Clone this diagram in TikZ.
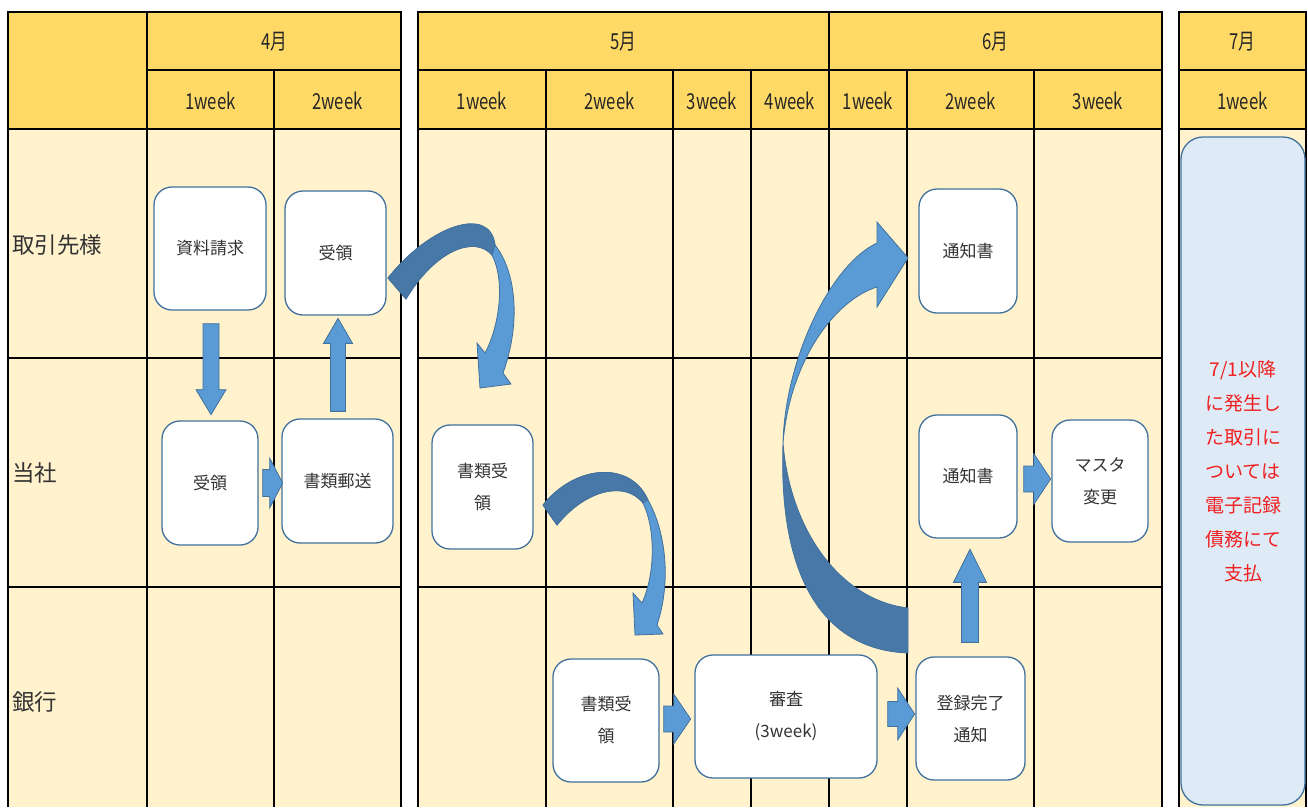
\documentclass[tikz,border=0pt]{standalone}
\usepackage{fontspec}
\usepackage{graphicx}
\setmainfont{Noto Sans CJK JP}
\usetikzlibrary{calc}
\definecolor{hdr}{HTML}{FFD966}
\definecolor{bodyc}{HTML}{FFF2CC}
\definecolor{arrowfill}{HTML}{5B9BD5}
\definecolor{arrowdark}{HTML}{4878A8}
\definecolor{edge}{HTML}{41719C}
\definecolor{boxblue}{HTML}{DEEBF7}
\definecolor{txt}{HTML}{333333}
\definecolor{redtxt}{HTML}{F02020}
\newcommand\hd[1]{\scalebox{0.76}[1]{#1}}
\newcommand\barr[6]{%
  \filldraw[blk,shift={#1},rotate=#2] (0,-#5) -- ({#3-#4},-#5) -- ({#3-#4},-#6) -- (#3,0) -- ({#3-#4},#6) -- ({#3-#4},#5) -- (0,#5) -- cycle;}
\tikzset{
  gridl/.style={line width=2.4pt, black},
  box/.style={draw=edge, line width=1.3pt, fill=white, rounded corners=18pt, align=center,
    font=\fontsize{17}{32}\selectfont, text=txt, inner sep=0pt},
  blk/.style={fill=arrowfill, draw=edge, line width=0.8pt},
  blkd/.style={fill=arrowdark, draw=edge, line width=0.8pt},
  hdrtext/.style={font=\fontsize{22}{22}\selectfont, text=black!85, inner sep=0pt},
  rowtext/.style={font=\fontsize{22.5}{22.5}\selectfont, text=txt, anchor=west, inner sep=0pt},
}
\begin{document}
\begin{tikzpicture}[x=1pt,y=-1pt]
\useasboundingbox (0,0) rectangle (1308,807);
\fill[white] (0,0) rectangle (1308,807);
% fills
\fill[hdr] (8,12) rectangle (401,129);
\fill[bodyc] (8,129) rectangle (401,807);
\fill[hdr] (418,12) rectangle (1162,129);
\fill[bodyc] (418,129) rectangle (1162,807);
\fill[hdr] (1179,12) rectangle (1306,129);
\fill[bodyc] (1179,129) rectangle (1306,807);
% grid table 1
\draw[gridl] (8,807) -- (8,12) -- (401,12) -- (401,807);
\draw[gridl] (147,70) -- (401,70);
\draw[gridl] (8,129) -- (401,129);
\draw[gridl] (8,358) -- (401,358);
\draw[gridl] (8,587) -- (401,587);
\draw[gridl] (147,12) -- (147,807);
\draw[gridl] (274,70) -- (274,807);
% grid table 2
\draw[gridl] (418,807) -- (418,12) -- (1162,12) -- (1162,807);
\draw[gridl] (418,70) -- (1162,70);
\draw[gridl] (418,129) -- (1162,129);
\draw[gridl] (418,358) -- (1162,358);
\draw[gridl] (418,587) -- (1162,587);
\foreach \xx in {546,673,751,907,1034} \draw[gridl] (\xx,70) -- (\xx,807);
\draw[gridl] (829,12) -- (829,807);
% grid table 3
\draw[gridl] (1179,807) -- (1179,12) -- (1306,12) -- (1306,807);
\draw[gridl] (1179,70) -- (1306,70);
\draw[gridl] (1179,129) -- (1306,129);
% header text
\node[hdrtext] (h4) at (274,42) {\hd{4月}};
\node[hdrtext] (h5) at (623,42) {\hd{5月}};
\node[hdrtext] (h6) at (995,42) {\hd{6月}};
\node[hdrtext] (h7) at (1242,42) {\hd{7月}};
\node[hdrtext] (w1) at (210.5,101) {\hd{1week}};
\node[hdrtext] (w2) at (337.5,101) {\hd{2week}};
\node[hdrtext] (w3) at (482,101) {\hd{1week}};
\node[hdrtext] (w4) at (609.5,101) {\hd{2week}};
\node[hdrtext] (w5) at (712,101) {\hd{3week}};
\node[hdrtext] (w6) at (790,101) {\hd{4week}};
\node[hdrtext] (w7) at (868,101) {\hd{1week}};
\node[hdrtext] (w8) at (970.5,101) {\hd{2week}};
\node[hdrtext] (w9) at (1098,101) {\hd{3week}};
\node[hdrtext] (w10) at (1242.5,101) {\hd{1week}};
% row labels
\node[rowtext] (rA) at (12,245) {取引先様};
\node[rowtext] (rB) at (12,473) {当社};
\node[rowtext] (rC) at (12,702) {銀行};
% boxes
\node[box, minimum width=112pt, minimum height=123pt] (req) at (210,248.5) {資料請求};
\node[box, minimum width=101pt, minimum height=124pt] (rcvA) at (335.5,253) {受領};
\node[box, minimum width=96pt, minimum height=124pt] (rcvB) at (210,483) {受領};
\node[box, minimum width=111pt, minimum height=124pt] (post) at (337.5,481) {書類郵送};
\node[box, minimum width=101pt, minimum height=124pt] (docA) at (482.5,487) {書類受\\領};
\node[box, minimum width=106pt, minimum height=123pt] (docB) at (606,720.5) {書類受\\領};
\node[box, minimum width=182pt, minimum height=123pt] (exam) at (786,716.5) {審査\\(3week)};
\node[box, minimum width=109pt, minimum height=123pt] (reg) at (970.5,718.5) {登録完了\\通知};
\node[box, minimum width=98pt, minimum height=124pt] (ntcA) at (968,251) {通知書};
\node[box, minimum width=98pt, minimum height=123pt] (ntcB) at (968,476.5) {通知書};
\node[box, minimum width=96pt, minimum height=122pt] (mst) at (1100,481) {マスタ\\変更};
\node[box, fill=boxblue, rounded corners=22pt, minimum width=124pt, minimum height=668pt,
  text=redtxt, font=\fontsize{19}{34}\selectfont] (jul) at (1243,471)
  {7/1以降\\に発生し\\た取引に\\ついては\\電子記録\\債務にて\\支払};
% straight block arrows
\barr{($(req.south)+(1,13)$)}{-90}{91}{25}{8}{15}
\barr{($(post.north)+(0.5,-7)$)}{90}{93}{25}{7.5}{14.5}
\barr{($(rcvB.east)+(4,0)$)}{0}{20}{13}{13.5}{25}
\barr{($(docB.east)+(4,-1.5)$)}{0}{27}{17}{13}{25}
\barr{($(exam.east)+(10,-2.5)$)}{0}{27}{17}{12.5}{26}
\barr{($(ntcB.east)+(6,2.5)$)}{0}{27}{17}{13}{25.5}
\barr{($(reg.north)+(-0.5,-14)$)}{90}{93}{33}{8.5}{16.5}
% curved arrow 1 (受領 -> 書類受領)
\filldraw[blk] (388,278) .. controls (430,225) and (490,205) .. (495,245)
  .. controls (515,270) and (522,320) .. (503,373) -- (511,384) -- (480,388) -- (477,343) -- (485,353)
  .. controls (500,325) and (505,280) .. (492,255)
  .. controls (475,235) and (435,250) .. (406,299) -- cycle;
\filldraw[blkd] (388,278) .. controls (430,225) and (490,205) .. (495,245)
  -- (492,255) .. controls (475,235) and (435,250) .. (406,299) -- cycle;
% curved arrow 2 (書類受領 -> 銀行 書類受領)
\filldraw[blk] (543,505) .. controls (575,465) and (630,460) .. (648,500)
  .. controls (665,530) and (672,580) .. (657,625) -- (663,634) -- (635,635) -- (633,593) -- (642,603)
  .. controls (655,575) and (656,530) .. (643,503)
  .. controls (625,480) and (585,490) .. (557,525) -- cycle;
\filldraw[blkd] (543,505) .. controls (575,465) and (630,460) .. (648,500)
  -- (643,503) .. controls (625,480) and (585,490) .. (557,525) -- cycle;
% curved arrow 3 (登録完了 -> 通知書)
\filldraw[blk] (783,443) .. controls (785,360) and (830,265) .. (877,243) -- (877,222) -- (908,258)
  -- (877,307) -- (877,287) .. controls (835,300) and (790,360) .. (783,443) -- cycle;
\filldraw[blkd] (783,443) .. controls (778,580) and (825,650) .. (908,653) -- (908,608)
  .. controls (840,600) and (790,530) .. (783,443) -- cycle;
\end{tikzpicture}
\end{document}
